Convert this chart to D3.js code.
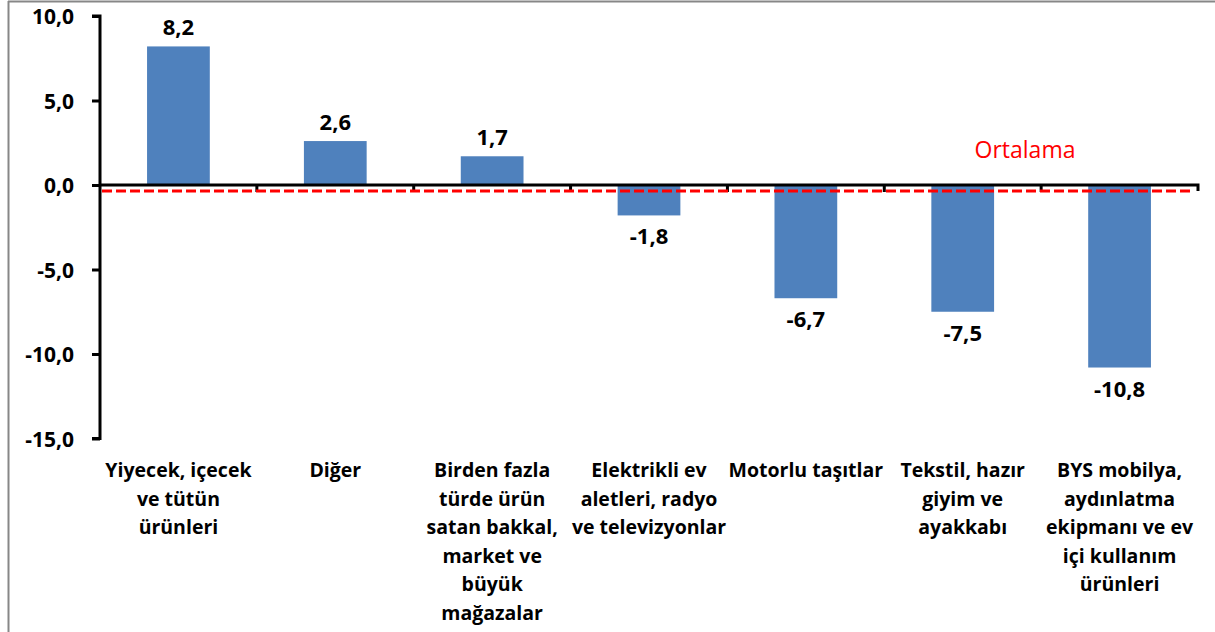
<!DOCTYPE html>
<html><head><meta charset="utf-8">
<script src="https://cdn.jsdelivr.net/npm/d3@7"></script>
<style>
html,body{margin:0;padding:0;background:#fff;}
svg{display:block;}
text{font-family:"Open Sans",Lato,sans-serif;}
</style></head>
<body>
<script>
const categories = [
  ["Yiyecek, içecek","ve tütün","ürünleri"],
  ["Diğer"],
  ["Birden fazla","türde ürün","satan bakkal,","market ve","büyük","mağazalar"],
  ["Elektrikli ev","aletleri, radyo","ve televizyonlar"],
  ["Motorlu taşıtlar"],
  ["Tekstil, hazır","giyim ve","ayakkabı"],
  ["BYS mobilya,","aydınlatma","ekipmanı ve ev","içi kullanım","ürünleri"]
];
const values = [8.2, 2.6, 1.7, -1.8, -6.7, -7.5, -10.8];
const average = -0.35;
const averageLabel = "Ortalama";
const yTicks = [10, 5, 0, -5, -10, -15];

const W = 1215, H = 632;
const svg = d3.select("body").append("svg").attr("width", W).attr("height", H);

// outer frame (top and left only visible)
svg.append("line").attr("x1",8).attr("x2",W).attr("y1",1.5).attr("y2",1.5).attr("stroke","#878787").attr("stroke-width",2);
svg.append("line").attr("x1",8.5).attr("x2",8.5).attr("y1",1).attr("y2",H).attr("stroke","#878787").attr("stroke-width",2);

const x = d3.scaleBand().domain(d3.range(categories.length)).range([100,1198]).paddingInner(0).paddingOuter(0);
const y = d3.scaleLinear().domain([-15,10]).range([438.5,16]);
const fmt = v => d3.format(".1f")(v).replace(".", ",").replace("−","-");

// bars
const bw = x.bandwidth()*0.4;
svg.selectAll("rect.bar").data(values).enter().append("rect")
  .attr("x",(d,i)=>x(i)+x.bandwidth()/2-bw/2)
  .attr("width",bw)
  .attr("y",d=>y(Math.max(0,d)))
  .attr("height",d=>Math.abs(y(d)-y(0)))
  .attr("fill","#4F81BD");

// y axis
const yAxis = d3.axisLeft(y).tickValues(yTicks).tickSize(8).tickFormat(fmt);
const gy = svg.append("g").attr("transform","translate(100,0)").call(yAxis);
gy.select(".domain").attr("stroke","#000").attr("stroke-width",3).attr("d","M-8,16H0V438.5H-8");
gy.selectAll(".tick line").attr("stroke","#000").attr("stroke-width",3);
gy.selectAll(".tick text").attr("x",-26).attr("dy","0.36em").attr("font-size",21).attr("font-weight","bold").attr("fill","#000").attr("font-family","Open Sans");

// x axis at zero
const xAxis = d3.axisBottom(x).tickSize(0).tickFormat("");
const gx = svg.append("g").attr("transform",`translate(0,${y(0)})`).call(xAxis);
gx.select(".domain").attr("stroke","#000").attr("stroke-width",3).attr("d","M100,0H1198V6");
gx.selectAll(".tick").remove();
// boundary ticks
const bounds = d3.range(1,categories.length).map(i=>x(i));
gx.selectAll("line.bt").data(bounds).enter().append("line")
  .attr("x1",d=>d).attr("x2",d=>d).attr("y1",0).attr("y2",7)
  .attr("stroke","#000").attr("stroke-width",3);

// average line
svg.append("line").attr("x1",102).attr("x2",1192).attr("y1",y(average)).attr("y2",y(average))
  .attr("stroke","#FF0000").attr("stroke-width",3).attr("stroke-dasharray","10,4");
svg.append("text").attr("x",1025).attr("y",158).attr("text-anchor","middle")
  .attr("font-size",23).attr("fill","#FF0000").attr("font-family","Lato").text(averageLabel);

// value labels
svg.selectAll("text.val").data(values).enter().append("text")
  .attr("x",(d,i)=>x(i)+x.bandwidth()/2)
  .attr("y",d=> d>=0 ? y(d)-11 : y(d)+29)
  .attr("text-anchor","middle").attr("font-size",22).attr("font-weight","bold").attr("fill","#000")
  .text(fmt);

// category labels
const cg = svg.selectAll("g.cat").data(categories).enter().append("g")
  .attr("transform",(d,i)=>`translate(${x(i)+x.bandwidth()/2},477)`);
cg.selectAll("text").data(d=>d).enter().append("text")
  .attr("x",0).attr("y",(d,i)=>i*28.5).attr("text-anchor","middle")
  .attr("font-size",19.5).attr("font-weight","bold").attr("fill","#000").text(d=>d);
</script>
</body></html>
